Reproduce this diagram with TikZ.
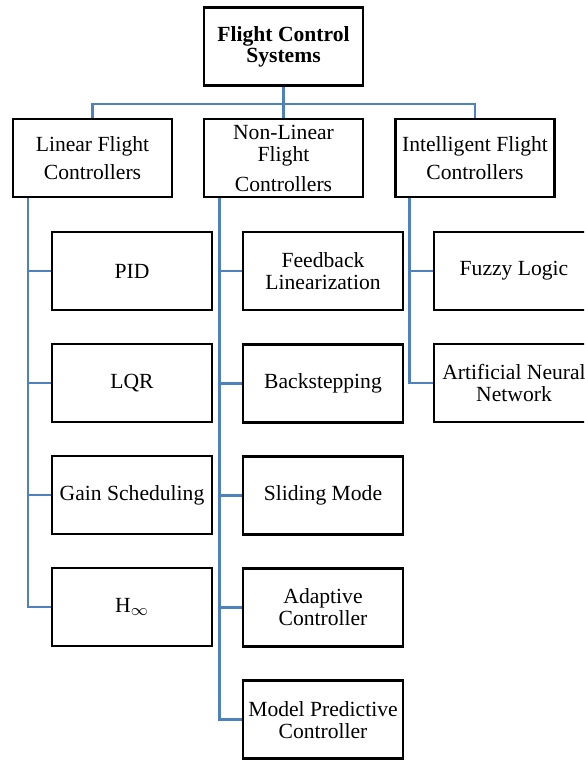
\documentclass[tikz,border=0pt]{standalone}
\usepackage{fontspec}
\setmainfont{Liberation Serif}
\definecolor{linkblue}{RGB}{79,129,189}
\begin{document}
\begin{tikzpicture}[x=0.5pt,y=-0.5pt,
  box/.style={draw,line width=1.4pt,minimum width=80pt,minimum height=39pt,inner sep=1pt,align=center,font=\fontsize{10.8}{11}\selectfont},
  link/.style={draw=linkblue,line width=1.4pt}]
\clip (0,0) rectangle (584,763);
% top levels
\node[box,minimum width=79.5pt,font=\bfseries\fontsize{10.8}{10.6}\selectfont] (fcs) at (283.5,46.5) {Flight Control\\Systems};
\node[box,minimum width=79.5pt] (lin) at (92.5,158) {Linear Flight\\[3pt]Controllers};
\node[box,minimum width=79.5pt] (nonlin) at (283.5,158) {Non-Linear\\Flight\\[4pt]Controllers};
\node[box,minimum width=79.5pt] (intel) at (475,158) {Intelligent Flight\\[3pt]Controllers};
\draw[link] (fcs.south) -- (nonlin.north);
\coordinate (bus) at (0,104);
\draw[link] (lin.north) |- (bus -| intel.north) -- (intel.north);
% children
\foreach \name/\txt [count=\i] in {pid/PID,lqr/LQR,gain/Gain Scheduling,hinf/H$_\infty$}
  \node[box] (\name) at (132,{271+112*(\i-1)}) {\txt};
\foreach \name/\txt [count=\i] in {fblin/{Feedback\\Linearization},back/Backstepping,slide/Sliding Mode,adapt/{Adaptive\\Controller},mpc/{Model Predictive\\Controller}}
  \node[box] (\name) at (323,{271+112.2*(\i-1)}) {\txt};
\foreach \name/\txt [count=\i] in {fuzzy/Fuzzy Logic,ann/{Artificial Neural\\Network}}
  \node[box] (\name) at (514,{271+112*(\i-1)}) {\txt};
% rails
\coordinate (linrail) at ([xshift=8.2pt]lin.south west);
\coordinate (nonrail) at ([xshift=8.5pt]nonlin.south west);
\coordinate (intrail) at ([xshift=7.5pt]intel.south west);
\draw[link] (linrail) |- (hinf.west);
\draw[link] (nonrail) |- (mpc.west);
\draw[link] (intrail) |- (ann.west);
\foreach \c in {pid,lqr,gain} \draw[link] (\c.west) -- (linrail |- \c.west);
\foreach \c in {fblin,back,slide,adapt} \draw[link] (\c.west) -- (nonrail |- \c.west);
\draw[link] (fuzzy.west) -- (intrail |- fuzzy.west);
\end{tikzpicture}
\end{document}
